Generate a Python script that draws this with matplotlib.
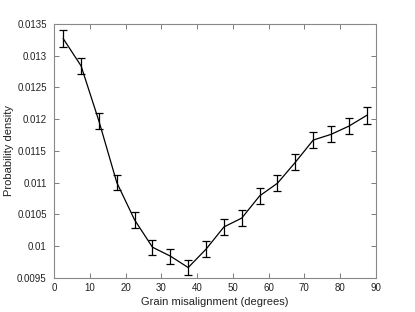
import matplotlib
matplotlib.use("Agg")
import matplotlib.pyplot as plt

# grain misalignment bins (degrees) and measured probability density
angle = [2.5, 7.5, 12.5, 17.5, 22.5, 27.5, 32.5, 37.5, 42.5,
         47.5, 52.5, 57.5, 62.5, 67.5, 72.5, 77.5, 82.5, 87.5]
density = [0.01327, 0.01284, 0.01197, 0.01100, 0.01041, 0.00998, 0.00984, 0.00966, 0.00995,
           0.01030, 0.01044, 0.01079, 0.01099, 0.01132, 0.01167, 0.01176, 0.01189, 0.01206]
err = [0.000135, 0.000130, 0.000125, 0.000123, 0.000123, 0.000120, 0.000120, 0.000120, 0.000122,
       0.000123, 0.000123, 0.000125, 0.000125, 0.000128, 0.000122, 0.000125, 0.000130, 0.000137]

xticks = [0, 10, 20, 30, 40, 50, 60, 70, 80, 90]
yticks = [0.0095, 0.01, 0.0105, 0.011, 0.0115, 0.012, 0.0125, 0.013, 0.0135]
ylabels = ["0.0095", "0.01", "0.0105", "0.011", "0.0115", "0.012", "0.0125", "0.013", "0.0135"]

plt.rcParams['font.family'] = ['Liberation Sans', 'DejaVu Sans']

fig = plt.figure(figsize=(4.15, 3.12), dpi=100)
ax = fig.add_axes([0.1308, 0.110, 0.7745, 0.813])

ax.errorbar(angle, density, yerr=err, color='black', lw=0.9,
            elinewidth=0.9, capsize=3, capthick=0.9)

ax.set_xlim(0, 90)
ax.set_ylim(0.0095, 0.0135)
ax.set_xticks(xticks)
ax.set_yticks(yticks)
ax.set_yticklabels(ylabels)
ax.tick_params(direction='in', top=True, right=True, length=3.5, width=0.6,
               color='#666666', labelcolor='#222222', labelsize=7)
ax.tick_params(axis='y', pad=5.5)
ax.tick_params(axis='x', pad=4)
for s in ax.spines.values():
    s.set_color('#888888')
    s.set_linewidth(0.8)

ax.set_xlabel('Grain misalignment (degrees)', color='#222222', fontsize=8, labelpad=3)
ax.set_ylabel('Probability density', color='#222222', fontsize=8, labelpad=2)

fig.savefig('out.png', dpi=100)
